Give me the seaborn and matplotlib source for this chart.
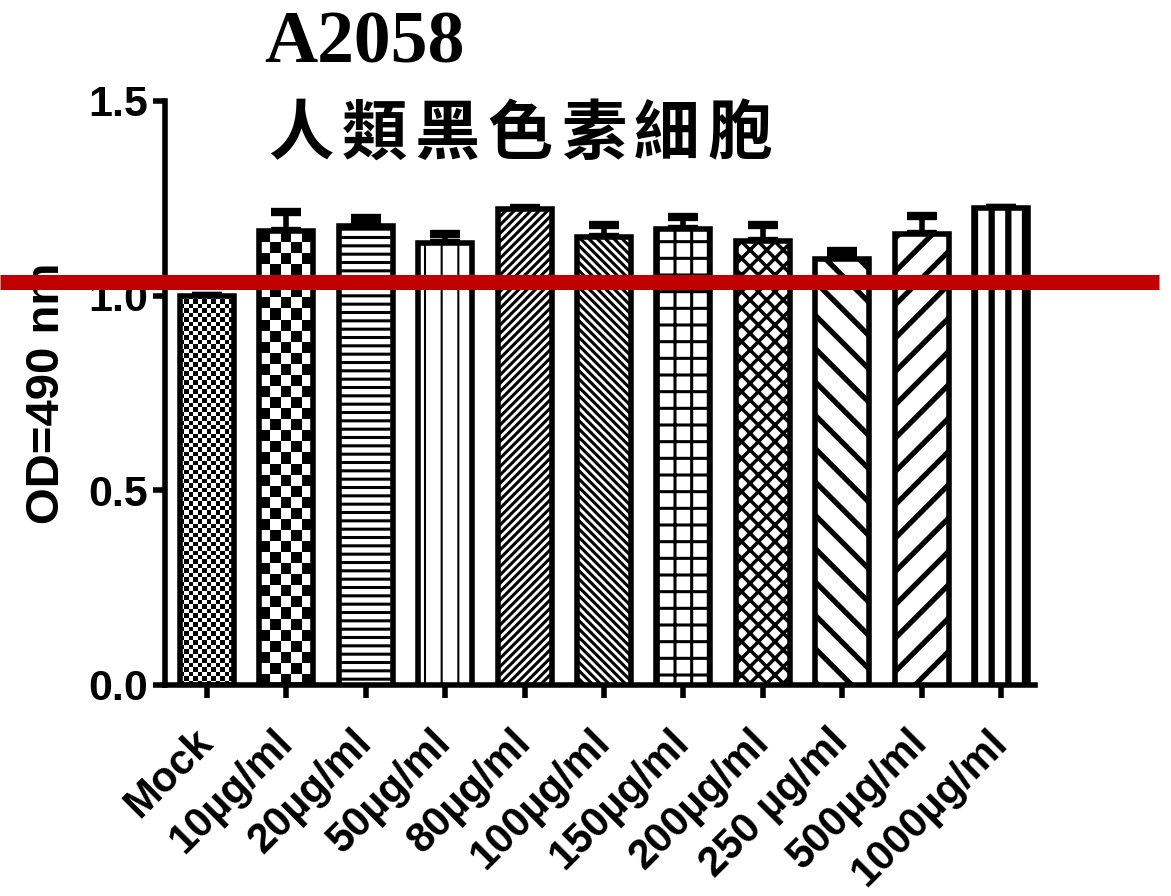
import numpy as np
import pandas as pd
import matplotlib
matplotlib.use("Agg")
import matplotlib.pyplot as plt
import seaborn as sns
from matplotlib.lines import Line2D

labels = ["Mock", "10µg/ml", "20µg/ml", "50µg/ml", "80µg/ml", "100µg/ml",
          "150µg/ml", "200µg/ml", "250 µg/ml", "500µg/ml", "1000µg/ml"]
values = [1.0, 1.166, 1.179, 1.135, 1.223, 1.151, 1.171, 1.141, 1.094, 1.158, 1.225]
errors = [0.0, 0.049, 0.021, 0.023, 0.003, 0.031, 0.031, 0.041, 0.021, 0.047, 0.0]
hatches = ["check_fine", "check_big", "--", "|", "////", "\\\\\\\\", "+", "xx", "\\", "/", "|"]
hatch_lw = [1, 1, 2.2, 1.5, 2.2, 2.2, 2.2, 2.5, 3.8, 3.8, 4.5]
threshold = 1.034

title_1 = "A2058"
title_2 = "人類黑色素細胞"
ylabel = "OD=490 nm"

sns.set_theme(style="ticks")
plt.rcParams["font.family"] = ["Liberation Sans", "DejaVu Sans"]
plt.rcParams.update({"text.color": "black", "axes.labelcolor": "black",
                     "xtick.color": "black", "ytick.color": "black",
                     "axes.edgecolor": "black"})

df = pd.DataFrame({"group": labels, "od": values})

fig = plt.figure(figsize=(11.71, 8.96), dpi=100)
ax = fig.add_axes([0.1409, 0.2355, 0.743, 0.6518])

sns.barplot(data=df, x="group", y="od", color="white", edgecolor="black",
            linewidth=4.0, width=0.68, errorbar=None, ax=ax, zorder=3)

ax.set_xlim(-0.53, 10.43)
ax.set_ylim(0, 1.5)
fig.canvas.draw()

# error bars (upper only)
centers = [p.get_x() + p.get_width() / 2 for p in ax.patches]
ax.errorbar(centers, values, yerr=[np.zeros(len(errors)), errors], fmt="none",
            ecolor="black", elinewidth=4.0, capsize=11, capthick=6, zorder=2)


def checker(patch, cell_px):
    x0, y0 = patch.get_x(), patch.get_y()
    w, h = patch.get_width(), patch.get_height()
    p0 = ax.transData.transform((x0, y0))
    p1 = ax.transData.transform((x0 + w, y0 + h))
    nc = max(1, int(round((p1[0] - p0[0]) / cell_px)))
    nr = max(1, int(round((p1[1] - p0[1]) / cell_px)))
    grid = (np.add.outer(np.arange(nr), np.arange(nc)) % 2).astype(float)
    im = ax.imshow(grid, extent=[x0, x0 + w, y0, y0 + h], cmap="gray",
                   interpolation="nearest", aspect="auto", origin="upper",
                   zorder=patch.get_zorder() - 0.5)
    im.set_clip_path(patch)
    patch.set_facecolor("none")


for patch, hatch, lw in zip(ax.patches, hatches, hatch_lw):
    if hatch == "check_fine":
        checker(patch, 4.5)
    elif hatch == "check_big":
        checker(patch, 11)
    else:
        patch.set_hatch(hatch)
        if hasattr(patch, "set_hatch_linewidth"):
            patch.set_hatch_linewidth(lw)
        else:
            patch._hatch_linewidth = lw

ax.set_xlim(-0.53, 10.43)
ax.set_ylim(0, 1.5)
ax.set_yticks([0, 0.5, 1.0, 1.5])
ax.set_yticklabels(["0.0", "0.5", "1.0", "1.5"])

sns.despine(ax=ax)
for s in ["left", "bottom"]:
    ax.spines[s].set_linewidth(4.0)
ax.tick_params(axis="both", width=4.0, length=9, color="black")
ax.tick_params(axis="y", labelsize=31, pad=3)
ax.tick_params(axis="x", pad=28)
for t in ax.get_yticklabels():
    t.set_fontweight("bold")
for t in ax.get_xticklabels():
    t.set_rotation(45)
    t.set_rotation_mode("anchor")
    t.set_ha("right")
    t.set_va("center")
    t.set_fontsize(30)
    t.set_fontweight("bold")

ax.set_xlabel("")
ax.set_ylabel(ylabel, fontsize=34, fontweight="bold", labelpad=14)

fig.text(0.226, 0.93, title_1, fontsize=53, fontweight="bold",
         family=["Liberation Serif", "DejaVu Serif"], va="baseline")
# CJK subtitle, letter-spaced
for i, ch in enumerate(title_2):
    fig.text(0.229 + i * 0.0625, 0.828, ch, fontsize=47, fontweight="bold",
             family=["Noto Sans CJK TC", "DejaVu Sans"], va="baseline")

# red threshold line across the whole figure
fig.canvas.draw()
y_fig = fig.transFigure.inverted().transform(ax.transData.transform((0, threshold)))[1]
fig.add_artist(Line2D([0, 0.99], [y_fig, y_fig], color="#c00000", linewidth=10.8,
                      solid_capstyle="butt", transform=fig.transFigure, zorder=10))

fig.savefig("out.png", dpi=100)
